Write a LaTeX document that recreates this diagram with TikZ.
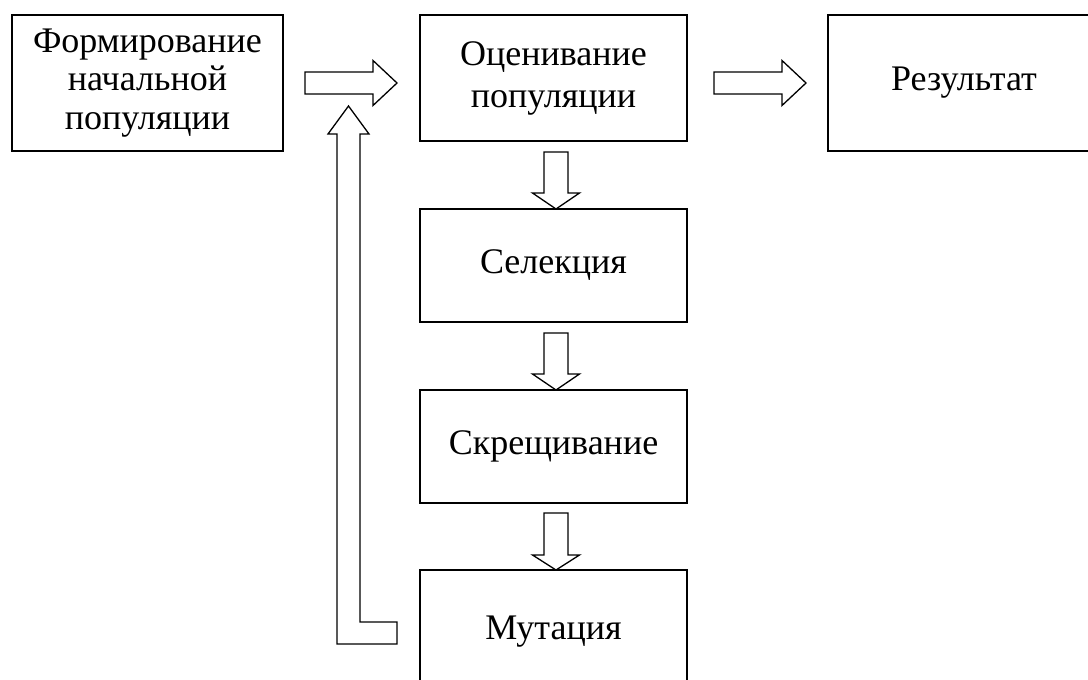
\documentclass[tikz,border=0pt]{standalone}
\usepackage{fontspec}
\setmainfont{Liberation Serif}
\begin{document}
\begin{tikzpicture}[x=1pt,y=-1pt,
  box/.style={draw,line width=1.8pt,align=center,inner sep=0pt,
    font=\fontsize{36}{38.5}\selectfont},
  blockarrow/.style={draw,line width=1.3pt,line join=miter,fill=white}]
\useasboundingbox (0,0) rectangle (1088,680);
\clip (0,0) rectangle (1088,680);
\node[box,minimum width=271pt,minimum height=136pt] (init) at (147.5,83) {Формирование\\начальной\\популяции};
\node[box,minimum width=267pt,minimum height=126pt,font=\fontsize{36}{42}\selectfont] (eval) at (553.5,78) {Оценивание\\популяции};
\node[box,minimum width=272pt,minimum height=136pt] (res) at (964,83) {Результат};
\node[box,minimum width=267pt,minimum height=113pt] (sel) at (553.5,265.5) {Селекция};
\node[box,minimum width=267pt,minimum height=113pt] (cross) at (553.5,446.5) {Скрещивание};
\node[box,minimum width=267pt,minimum height=124pt] (mut) at (553.5,632) {Мутация};
% right arrows
\draw[blockarrow] (305,72)--(373,72)--(373,60.5)--(397,83)--(373,105.5)--(373,94)--(305,94)--cycle;
\draw[blockarrow] (714,72)--(782,72)--(782,60.5)--(806,83)--(782,105.5)--(782,94)--(714,94)--cycle;
% down arrows
\draw[blockarrow] (544,152)--(568,152)--(568,193)--(579.5,193)--(556,209)--(532.5,193)--(544,193)--cycle;
\draw[blockarrow] (544,333)--(568,333)--(568,374)--(579.5,374)--(556,390)--(532.5,374)--(544,374)--cycle;
\draw[blockarrow] (544,513)--(568,513)--(568,555)--(579.5,555)--(556,570)--(532.5,555)--(544,555)--cycle;
% feedback loop arrow
\draw[blockarrow] (397,622)--(360,622)--(360,134)--(369,134)--(348.5,106)--(328,134)--(337,134)--(337,644)--(397,644)--cycle;
\end{tikzpicture}
\end{document}
